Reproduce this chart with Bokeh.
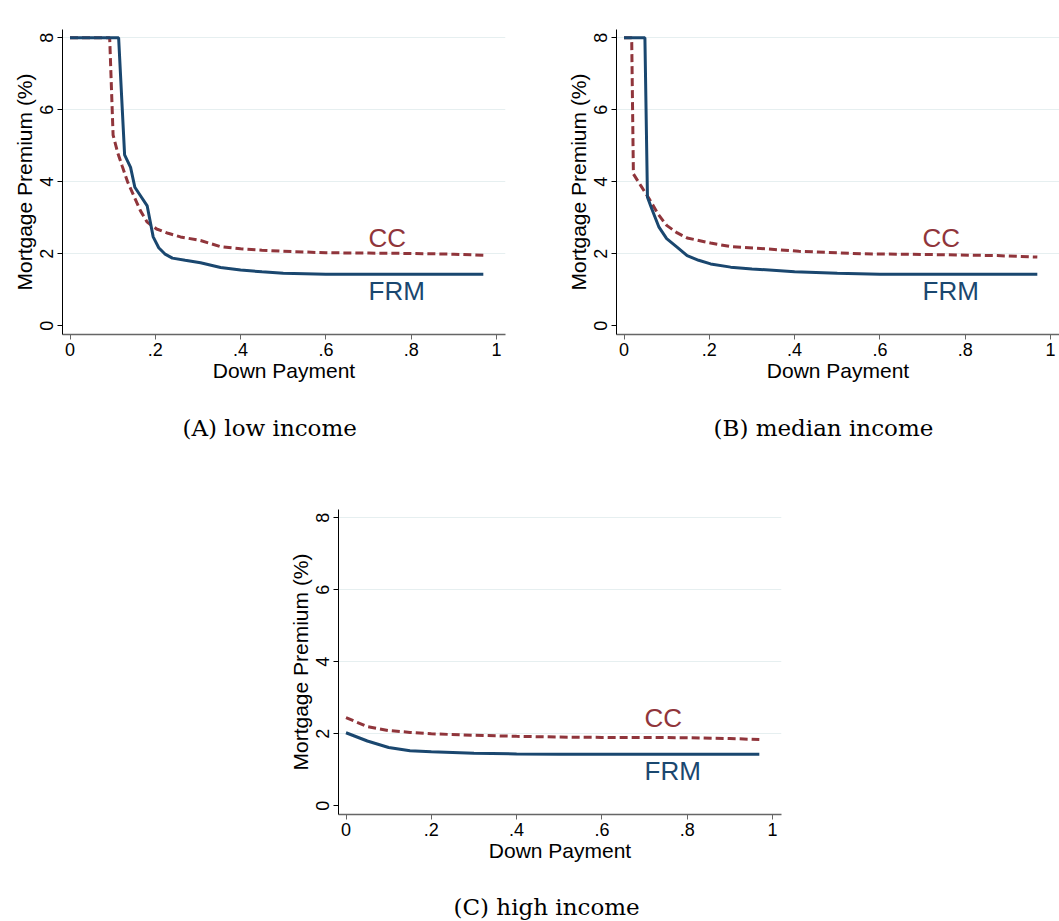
from bokeh.plotting import figure
from bokeh.layouts import column, row
from bokeh.models import Spacer, FixedTicker, Label
from bokeh.core.properties import value
from bokeh.embed import file_html
from bokeh.resources import INLINE

# ---------------- data ----------------
a_frm_x = [0, 0.05, 0.114, 0.128, 0.142, 0.152, 0.166, 0.181, 0.195, 0.208, 0.222, 0.24, 0.27, 0.306, 0.353, 0.40, 0.45, 0.50, 0.60, 0.70, 0.80, 0.90, 0.969]
a_frm_y = [8, 8, 8, 4.75, 4.4, 3.85, 3.6, 3.33, 2.47, 2.17, 2.0, 1.88, 1.82, 1.75, 1.62, 1.55, 1.5, 1.46, 1.43, 1.43, 1.43, 1.43, 1.43]
a_cc_x = [0, 0.093, 0.101, 0.112, 0.122, 0.135, 0.15, 0.165, 0.181, 0.203, 0.23, 0.259, 0.306, 0.353, 0.40, 0.45, 0.50, 0.60, 0.70, 0.80, 0.90, 0.969]
a_cc_y = [8, 8, 5.3, 4.8, 4.45, 4.0, 3.6, 3.2, 2.88, 2.69, 2.57, 2.47, 2.37, 2.2, 2.14, 2.1, 2.07, 2.03, 2.02, 2.01, 1.99, 1.96]

b_frm_x = [0, 0.049, 0.055, 0.065, 0.082, 0.1, 0.125, 0.148, 0.175, 0.203, 0.25, 0.3, 0.4, 0.5, 0.6, 0.7, 0.8, 0.9, 0.969]
b_frm_y = [8, 8, 3.57, 3.25, 2.74, 2.42, 2.18, 1.95, 1.82, 1.72, 1.63, 1.58, 1.5, 1.46, 1.43, 1.43, 1.43, 1.43, 1.43]
b_cc_x = [0, 0.018, 0.022, 0.039, 0.059, 0.08, 0.1, 0.125, 0.148, 0.203, 0.25, 0.33, 0.41, 0.56, 0.72, 0.875, 0.969]
b_cc_y = [8, 8, 4.22, 3.9, 3.53, 3.1, 2.79, 2.58, 2.44, 2.3, 2.2, 2.14, 2.07, 2.0, 1.98, 1.95, 1.91]

c_x = [0, 0.05, 0.1, 0.15, 0.2, 0.3, 0.4, 0.5, 0.6, 0.7, 0.8, 0.9, 0.969]
c_frm_y = [2.03, 1.8, 1.62, 1.53, 1.5, 1.46, 1.44, 1.43, 1.43, 1.43, 1.43, 1.43, 1.43]
c_cc_y = [2.45, 2.2, 2.09, 2.04, 2.0, 1.96, 1.93, 1.91, 1.9, 1.9, 1.89, 1.87, 1.84]

x_ticks = [0, 0.2, 0.4, 0.6, 0.8, 1.0]
x_tick_labels = ["0", ".2", ".4", ".6", ".8", "1"]
y_ticks = [0, 2, 4, 6, 8]
captions = ["(A) low income", "(B) median income", "(C) high income"]

FRM_COLOR = "#1a476f"
CC_COLOR = "#90353b"
SANS = "Liberation Sans"


def make_panel(width, height, left, right, top, bottom, frm_x, frm_y, cc_x, cc_y):
    p = figure(width=width, height=height, x_range=(-0.0176, 1.021), y_range=(-0.241, 8.231),
               min_border_left=left, min_border_right=right, min_border_top=top,
               min_border_bottom=bottom, output_backend="svg", toolbar_location=None)
    p.outline_line_color = None
    p.background_fill_color = "white"
    p.border_fill_color = "white"

    p.xgrid.visible = False
    p.ygrid.ticker = FixedTicker(ticks=[2, 4, 6, 8])
    p.ygrid.grid_line_color = "#e6eff0"
    p.ygrid.grid_line_width = 1

    p.xaxis.ticker = FixedTicker(ticks=x_ticks)
    p.xaxis.major_label_overrides = {t: l for t, l in zip(x_ticks, x_tick_labels)}
    p.yaxis.ticker = FixedTicker(ticks=y_ticks)
    p.yaxis.major_label_orientation = "vertical"

    for ax in (p.xaxis[0], p.yaxis[0]):
        ax.minor_tick_line_color = None
        ax.major_tick_in = 0
        ax.major_tick_out = 5
        ax.major_label_text_font = SANS
        ax.major_label_text_font_size = "18px"
        ax.major_label_text_color = "black"
        ax.axis_label_text_font = SANS
        ax.axis_label_text_font_size = "21px"
        ax.axis_label_text_font_style = "normal"
        ax.axis_label_text_color = "black"
    p.xaxis.axis_line_color = "#666666"
    p.xaxis.axis_line_width = 1.5
    p.xaxis.major_tick_line_color = "#666666"
    p.yaxis.axis_line_color = "black"
    p.yaxis.major_tick_line_color = "black"
    p.xaxis.major_label_standoff = 3
    p.yaxis.major_label_standoff = 4
    p.xaxis.axis_label_standoff = 0
    p.yaxis.axis_label_standoff = 2
    p.xaxis.axis_label = "Down Payment"
    p.yaxis.axis_label = "Mortgage Premium (%)"

    p.line(cc_x, cc_y, line_color=CC_COLOR, line_width=3, line_dash="8 4")
    p.line(frm_x, frm_y, line_color=FRM_COLOR, line_width=3)

    p.add_layout(Label(x=0.70, y=2.45, text="CC", text_color=CC_COLOR, text_font=SANS,
                       text_font_size="26px", text_baseline="middle", text_align="left"))
    p.add_layout(Label(x=0.70, y=0.98, text="FRM", text_color=FRM_COLOR, text_font=SANS,
                       text_font_size="26px", text_baseline="middle", text_align="left"))
    return p


def make_caption(width, height, text, tx, ty):
    c = figure(width=width, height=height, x_range=(0, width), y_range=(0, height),
               x_axis_type=None, y_axis_type=None, min_border=0,
               output_backend="svg", toolbar_location=None)
    c.outline_line_color = None
    c.grid.visible = False
    c.text(x=[tx], y=[ty], text=[text], text_font=value("DejaVu Serif"),
           text_font_size="23px", text_color="black", text_baseline="middle",
           text_align="left")
    return c


pa = make_panel(530, 400, 62, 25, 29, 66, a_frm_x, a_frm_y, a_cc_x, a_cc_y)
pb = make_panel(529, 400, 86, 0, 29, 66, b_frm_x, b_frm_y, b_cc_x, b_cc_y)
pc = make_panel(530, 421, 62, 25, 49, 67, c_x, c_frm_y, c_x, c_cc_y)

cap_a = make_caption(530, 60, captions[0], 182, 33)
cap_b = make_caption(529, 60, captions[1], 183, 33)
cap_c = make_caption(530, 40, captions[2], 177, 15)

layout = column(
    row(pa, pb),
    row(cap_a, cap_b),
    row(Spacer(width=276, height=421), pc),
    row(Spacer(width=276, height=40), cap_c),
)

open("out.html", "w").write(file_html(layout, INLINE))
